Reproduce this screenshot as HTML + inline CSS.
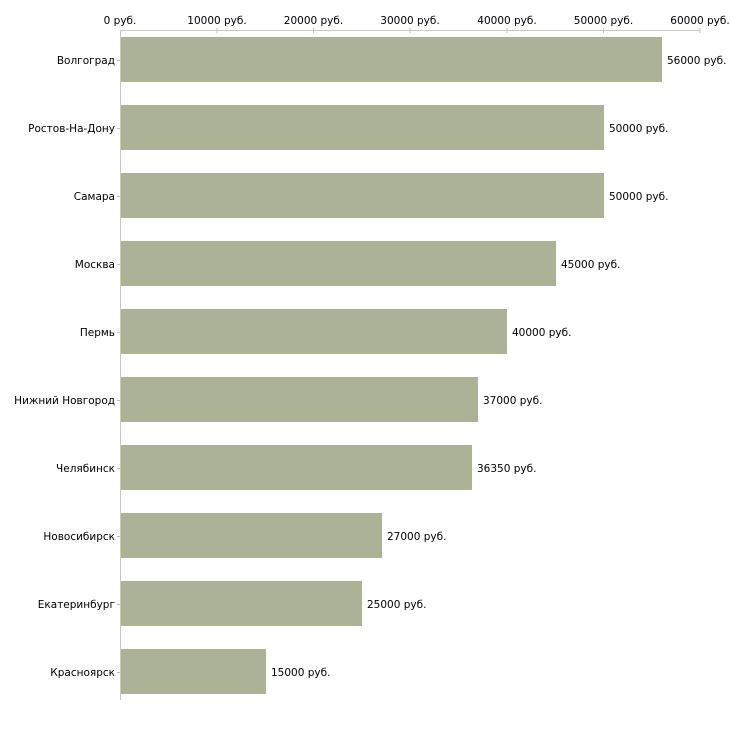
<!DOCTYPE html>
<html><head><meta charset="utf-8"><style>body{margin:0;background:#fff}</style></head><body>
<svg width="730" height="730" xmlns="http://www.w3.org/2000/svg" font-family="DejaVu Sans, sans-serif" font-size="10.5">
<line x1="120" y1="30.5" x2="700" y2="30.5" stroke="#c8c8bc"/>
<line x1="120.5" y1="30" x2="120.5" y2="700" stroke="#c8c8bc"/>
<g stroke="#c2c6a8">
<line x1="217" y1="28" x2="217" y2="33"/><line x1="313.5" y1="28" x2="313.5" y2="33"/><line x1="410" y1="28" x2="410" y2="33"/><line x1="507" y1="28" x2="507" y2="33"/><line x1="603.5" y1="28" x2="603.5" y2="33"/><line x1="700" y1="28" x2="700" y2="33"/>
</g>
<g text-anchor="middle" fill="#000">
<text x="120" y="24">0 руб.</text><text x="217" y="24">10000 руб.</text><text x="313.5" y="24">20000 руб.</text><text x="410" y="24">30000 руб.</text><text x="507" y="24">40000 руб.</text><text x="603.5" y="24">50000 руб.</text><text x="700" y="24">60000 руб.</text>
</g>
<g fill="#acb295">
<rect x="121" y="37" width="541" height="45"/>
<rect x="121" y="105" width="483" height="45"/>
<rect x="121" y="173" width="483" height="45"/>
<rect x="121" y="241" width="435" height="45"/>
<rect x="121" y="309" width="386" height="45"/>
<rect x="121" y="377" width="357" height="45"/>
<rect x="121" y="445" width="351" height="45"/>
<rect x="121" y="513" width="261" height="45"/>
<rect x="121" y="581" width="241" height="45"/>
<rect x="121" y="649" width="145" height="45"/>
</g>
<g fill="#000">
<text x="667" y="64">56000 руб.</text>
<text x="609" y="132">50000 руб.</text>
<text x="609" y="200">50000 руб.</text>
<text x="561" y="268">45000 руб.</text>
<text x="512" y="336">40000 руб.</text>
<text x="483" y="404">37000 руб.</text>
<text x="477" y="472">36350 руб.</text>
<text x="387" y="540">27000 руб.</text>
<text x="367" y="608">25000 руб.</text>
<text x="271" y="676">15000 руб.</text>
</g>
<g text-anchor="end" fill="#000">
<text x="115" y="64">Волгоград</text>
<text x="115" y="132">Ростов-На-Дону</text>
<text x="115" y="200">Самара</text>
<text x="115" y="268">Москва</text>
<text x="115" y="336">Пермь</text>
<text x="115" y="404">Нижний Новгород</text>
<text x="115" y="472">Челябинск</text>
<text x="115" y="540">Новосибирск</text>
<text x="115" y="608">Екатеринбург</text>
<text x="115" y="676">Красноярск</text>
</g>
<g stroke="#c2c6a8">
<line x1="117" y1="60.5" x2="120" y2="60.5"/><line x1="117" y1="128.5" x2="120" y2="128.5"/><line x1="117" y1="196.5" x2="120" y2="196.5"/><line x1="117" y1="264.5" x2="120" y2="264.5"/><line x1="117" y1="332.5" x2="120" y2="332.5"/><line x1="117" y1="400.5" x2="120" y2="400.5"/><line x1="117" y1="468.5" x2="120" y2="468.5"/><line x1="117" y1="536.5" x2="120" y2="536.5"/><line x1="117" y1="604.5" x2="120" y2="604.5"/><line x1="117" y1="672.5" x2="120" y2="672.5"/>
</g>
</svg>
</body></html>
